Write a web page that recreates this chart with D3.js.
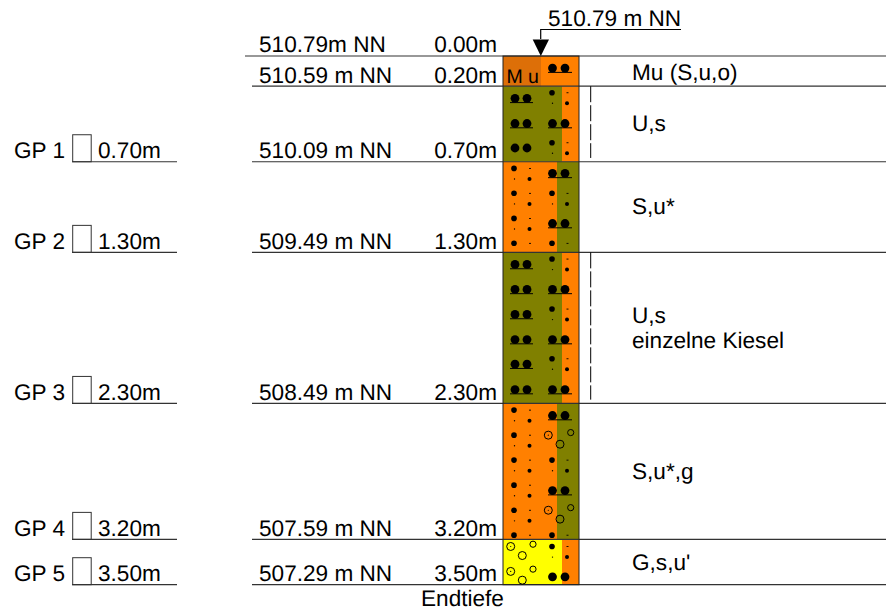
<!DOCTYPE html>
<html><head><meta charset="utf-8">
<script src="https://d3js.org/d3.v7.min.js"></script>
<style>html,body{margin:0;padding:0;background:#fff}svg{display:block}text{font-family:"Liberation Sans",Arial,sans-serif;font-size:22.6px;fill:#000;text-rendering:geometricPrecision}</style>
</head><body><svg id="c" width="886" height="615"></svg>
<script>
const groundLevel = 510.79;
const depths = [0, 0.20, 0.70, 1.30, 2.30, 3.20, 3.50];
const elevations = ["510.79m NN","510.59 m NN","510.09 m NN","509.49 m NN","508.49 m NN","507.59 m NN","507.29 m NN"];
const depthLabels = ["0.00m","0.20m","0.70m","1.30m","2.30m","3.20m","3.50m"];
const layerNames = ["Mu (S,u,o)","U,s","S,u*","U,s","S,u*,g","G,s,u'"];
const layerLeft = ["#dd6f08","#808000","#ff8000","#808000","#ff8000","#ffff00"];
const layerRight = ["#ff8000","#ff8000","#808000","#ff8000","#808000","#ff8000"];
const layerSplit = [541,562,557,562,557,562];
const samples = ["GP 1","GP 2","GP 3","GP 4","GP 5"];
const sampleDepths = [0.70,1.30,2.30,3.20,3.50];
const sampleLabels = ["0.70m","1.30m","2.30m","3.20m","3.50m"];
// double-pebble rows: [x-column, depth m, underlined]
const pebbles = [
 ["R",0.080,1],["L",0.280,1],["L",0.447,1],["R",0.447,1],["L",0.609,0],
 ["R",0.777,1],["R",1.109,1],["L",1.380,1],["L",1.545,1],["R",1.545,1],["L",1.711,1],
 ["L",1.877,1],["R",1.877,1],["L",2.040,1],["L",2.208,1],["R",2.208,1],
 ["R",2.380,1],["R",2.877,1],["R",3.448,0]];
// four-dot silt/sand clusters: [x-column, depth of first row, has second row]
const dotClusters = [
 ["R",0.243,1],["R",0.574,1],
 ["L",0.744,1],["L",0.909,1],["R",0.909,1],["L",1.075,1],["L",1.240,0],["R",1.240,0],
 ["R",1.344,1],["R",1.675,1],["R",2.004,1],
 ["L",2.344,1],["L",2.510,1],["L",2.675,1],["R",2.675,1],["L",2.841,1],["L",3.007,1],["L",3.172,0],["R",3.172,0],
 ["R",3.247,1]];
// gravel rings: [x-column key, depth, size, dotted]
const rings = [
 ["a",2.510,1,1],["c",2.493,0,0],["b",2.570,1,0],
 ["a",3.007,1,1],["c",2.990,0,0],["b",3.066,1,0],
 ["d",3.247,1,1],["f",3.232,0,0],["e",3.307,1,0],
 ["d",3.412,1,1],["f",3.397,0,0],["e",3.470,1,0]];
const dashSegments = [[0.20,0.675],[1.30,2.275]];

const svg = d3.select("#c");
const y = d3.scaleLinear().domain([0,3.5]).range([56,584.7]);
const colX = {L:{a:514,b:530,d1:515,d2:527,u0:510,u1:533},R:{a:552,b:567.5,d1:552.5,d2:565,u0:548,u1:572}};
const ringX = {a:548.3,b:560,c:570.7,d:510.7,e:522.3,f:533};
const ink = "#000", rule = "#333";

// soil column
const layers = depths.slice(1).map((d,i)=>({top:depths[i],bot:d,i}));
svg.selectAll("rect.l").data(layers).join("rect").attr("class","l").attr("x",503).attr("width",d=>layerSplit[d.i]-503)
 .attr("y",d=>y(d.top)).attr("height",d=>y(d.bot)-y(d.top)).attr("fill",d=>layerLeft[d.i]);
svg.selectAll("rect.r").data(layers).join("rect").attr("class","r").attr("x",d=>layerSplit[d.i]).attr("width",d=>579-layerSplit[d.i])
 .attr("y",d=>y(d.top)).attr("height",d=>y(d.bot)-y(d.top)).attr("fill",d=>layerRight[d.i]);

// level rules
svg.selectAll("line.lv").data(depths).join("line").attr("class","lv")
 .attr("x1",(d,i)=>i==0?245:252).attr("x2",886).attr("y1",d=>y(d)).attr("y2",d=>y(d)).attr("stroke",rule).attr("stroke-width",1.2);
// column outline
svg.append("rect").attr("x",503).attr("y",y(0)).attr("width",76).attr("height",y(3.5)-y(0)).attr("fill","none").attr("stroke","#222").attr("stroke-width",1);

// symbols
const g = svg.append("g");
pebbles.forEach(([c,d,u])=>{
 const C=colX[c];
 [C.d1,C.d2].forEach(x=>g.append("circle").attr("cx",x).attr("cy",y(d)).attr("r",4.4).attr("fill",ink));
 if(u) g.append("line").attr("x1",C.u0).attr("x2",C.u1).attr("y1",y(d)+4.3).attr("y2",y(d)+4.3).attr("stroke",ink).attr("stroke-width",1);
});
dotClusters.forEach(([c,d,two])=>{
 const C=colX[c];
 g.append("circle").attr("cx",C.a).attr("cy",y(d)).attr("r",2.8).attr("fill",ink);
 g.append("rect").attr("x",C.b-1).attr("y",y(d)-.4).attr("width",2).attr("height",.9).attr("fill",ink);
 if(two){
  const y2=y(d)+10.6;
  g.append("circle").attr("cx",C.a+.5).attr("cy",y2).attr("r",.7).attr("fill",ink);
  g.append("circle").attr("cx",C.b-.5).attr("cy",y2).attr("r",2).attr("fill",ink);
 }
});
rings.forEach(([k,d,big,dot])=>{
 const x=ringX[k];
 g.append("circle").attr("cx",x).attr("cy",y(d)).attr("r",big?4:3.1).attr("fill","none").attr("stroke",ink).attr("stroke-width",1);
 if(dot) g.append("circle").attr("cx",x).attr("cy",y(d)).attr("r",.6).attr("fill",ink);
});

// Mu label
svg.append("text").attr("x",506.5).attr("y",82.7).style("font-size","19.5px").text("M");
svg.append("text").attr("x",528).attr("y",82.7).style("font-size","19.5px").text("u");

// dashed lines
svg.selectAll("line.ds").data(dashSegments).join("line").attr("class","ds").attr("x1",590.7).attr("x2",590.7)
 .attr("y1",d=>y(d[0])).attr("y2",d=>y(d[1])).attr("stroke",ink).attr("stroke-width",1).attr("stroke-dasharray","16 3");

// left labels
svg.selectAll("text.el").data(elevations).join("text").attr("class","el").attr("x",259).attr("y",(d,i)=>y(depths[i])-(i==0?4.3:3.5)).text(d=>d);
svg.selectAll("text.dp").data(depthLabels).join("text").attr("class","dp").attr("x",497).attr("text-anchor","end").attr("y",(d,i)=>y(depths[i])-(i==0?4.3:3.5)).text(d=>d);

// samples
samples.forEach((s,i)=>{
 const yy=y(sampleDepths[i]);
 svg.append("text").attr("x",14).attr("y",yy-3.5).text(s);
 svg.append("rect").attr("x",72.7).attr("y",yy-27).attr("width",18.5).attr("height",27).attr("fill","none").attr("stroke",rule).attr("stroke-width",1);
 svg.append("line").attr("x1",72).attr("x2",177).attr("y1",yy).attr("y2",yy).attr("stroke",rule).attr("stroke-width",1.2);
 svg.append("text").attr("x",98).attr("y",yy-3.5).text(sampleLabels[i]);
});

// right labels
const nameY=[80,131,214.3,323,479.3,570.3];
svg.selectAll("text.nm").data(layerNames).join("text").attr("class","nm").attr("x",632).attr("y",(d,i)=>nameY[i]).text(d=>d);
svg.append("text").attr("x",632).attr("y",347.7).text("einzelne Kiesel");

// top marker
svg.append("text").attr("x",548).attr("y",26).text("510.79 m NN");
svg.append("path").attr("d",`M681 29.5H540.7V${y(0)-17}`).attr("fill","none").attr("stroke",ink).attr("stroke-width",1.2);
svg.append("path").attr("d",`M532.7 39.5H549L540.8 ${y(0)}Z`).attr("fill",ink);
svg.append("text").attr("x",421).attr("y",606).text("Endtiefe");
</script></body></html>
